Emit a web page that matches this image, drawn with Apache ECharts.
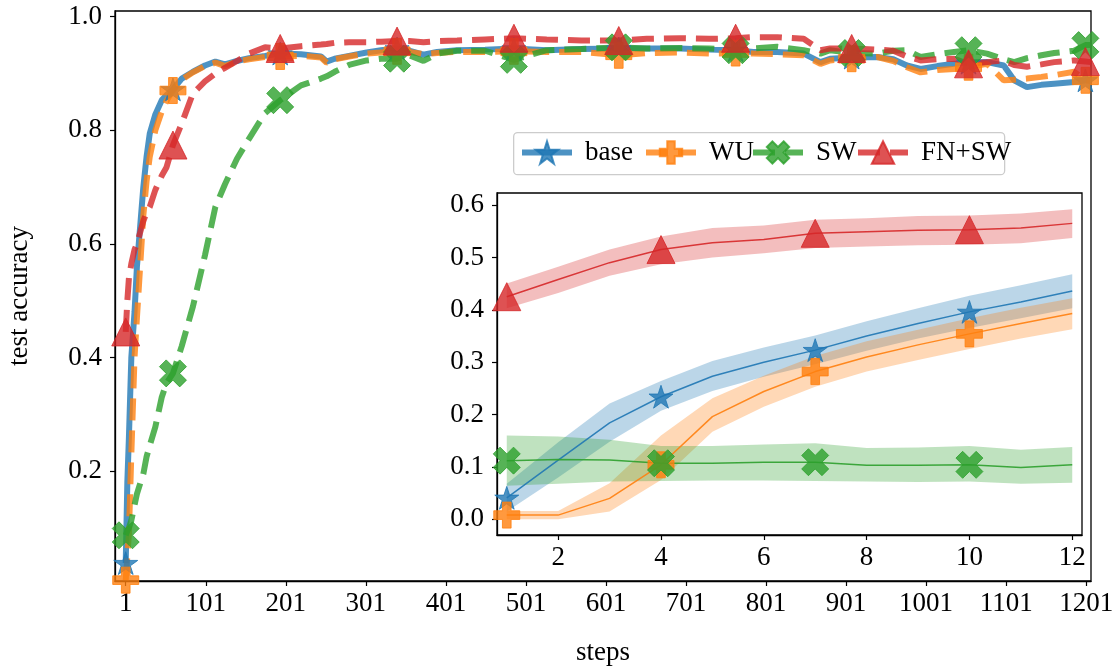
<!DOCTYPE html>
<html>
<head>
<meta charset="utf-8">
<script src="https://cdn.jsdelivr.net/npm/echarts@6/dist/echarts.min.js"></script>
<style>
  html, body { margin: 0; padding: 0; background: #fff; }
  #chart { width: 1112px; height: 666px; }
</style>
</head>
<body>
<div id="chart"></div>
<script>
// ---- main panel: test accuracy over training steps ----
const steps = [1, 3, 5, 8, 12, 15, 19, 23, 27, 31, 38, 46, 52, 60, 71, 85, 100, 113, 125, 140,
  155, 175, 194, 220, 245, 252, 262, 280, 302, 320, 340, 355, 373, 390, 415, 450, 486, 527, 570, 617,
  652, 694, 730, 763, 785, 815, 848, 869, 881, 908, 940, 960, 977, 994, 1015, 1036, 1054, 1077, 1098, 1111,
  1127, 1145, 1161, 1186, 1200, 1207];

const baseAcc = [0.038, 0.18, 0.26, 0.40, 0.48, 0.56, 0.63, 0.70, 0.753, 0.794, 0.828, 0.853, 0.862, 0.872, 0.891, 0.903, 0.914, 0.921, 0.916, 0.922,
  0.927, 0.931, 0.935, 0.934, 0.930, 0.921, 0.926, 0.931, 0.937, 0.941, 0.944, 0.940, 0.933, 0.938, 0.941, 0.942, 0.944, 0.941, 0.943, 0.944,
  0.944, 0.944, 0.942, 0.941, 0.938, 0.938, 0.935, 0.920, 0.926, 0.928, 0.929, 0.925, 0.914, 0.908, 0.913, 0.917, 0.919, 0.920, 0.914, 0.888,
  0.876, 0.880, 0.882, 0.885, 0.888, 0.890];

const wuAcc = [0.008, 0.05, 0.09, 0.23, 0.40, 0.47, 0.56, 0.65, 0.71, 0.753, 0.800, 0.833, 0.852, 0.870, 0.889, 0.902, 0.913, 0.919, 0.913, 0.921,
  0.925, 0.929, 0.930, 0.931, 0.928, 0.919, 0.925, 0.930, 0.935, 0.937, 0.939, 0.938, 0.934, 0.936, 0.938, 0.938, 0.939, 0.938, 0.938, 0.932,
  0.936, 0.937, 0.935, 0.936, 0.935, 0.934, 0.932, 0.917, 0.923, 0.926, 0.929, 0.922, 0.911, 0.902, 0.906, 0.908, 0.911, 0.917, 0.888, 0.889,
  0.891, 0.894, 0.897, 0.903, 0.888, 0.886];

const swAcc = [0.087, 0.095, 0.10, 0.113, 0.14, 0.16, 0.178, 0.195, 0.225, 0.245, 0.278, 0.33, 0.355, 0.372, 0.42, 0.49, 0.58, 0.665, 0.705, 0.75,
  0.785, 0.83, 0.853, 0.879, 0.891, 0.895, 0.903, 0.915, 0.923, 0.926, 0.926, 0.932, 0.922, 0.935, 0.940, 0.940, 0.924, 0.941, 0.943, 0.946,
  0.944, 0.945, 0.944, 0.941, 0.944, 0.947, 0.941, 0.935, 0.941, 0.936, 0.935, 0.940, 0.941, 0.929, 0.934, 0.938, 0.941, 0.935, 0.925, 0.920,
  0.927, 0.932, 0.936, 0.940, 0.950, 0.950];

const fnswAcc = [0.445, 0.50, 0.54, 0.565, 0.59, 0.60, 0.62, 0.64, 0.655, 0.665, 0.695, 0.72, 0.735, 0.774, 0.812, 0.865, 0.886, 0.900, 0.910, 0.922,
  0.935, 0.946, 0.944, 0.948, 0.951, 0.952, 0.954, 0.955, 0.955, 0.956, 0.957, 0.957, 0.955, 0.957, 0.958, 0.960, 0.962, 0.960, 0.958, 0.958,
  0.961, 0.962, 0.961, 0.962, 0.964, 0.964, 0.961, 0.941, 0.944, 0.944, 0.942, 0.940, 0.930, 0.923, 0.925, 0.926, 0.917, 0.920, 0.923, 0.915,
  0.912, 0.916, 0.920, 0.923, 0.921, 0.920];

const markerSteps = [1, 60, 194, 340, 486, 617, 763, 908, 1054, 1200];
const stepTicks = [1, 101, 201, 301, 401, 501, 601, 701, 801, 901, 1001, 1101, 1201];
const accTicks = [0.2, 0.4, 0.6, 0.8, 1.0];

// ---- inset: first evaluation points, mean with spread ----
const insetSteps = [1, 2, 3, 4, 5, 6, 7, 8, 9, 10, 11, 12];
const insetBase = [0.041, 0.113, 0.184, 0.234, 0.273, 0.300, 0.323, 0.350, 0.374, 0.396, 0.415, 0.436];
const insetBaseLow = [0.015, 0.080, 0.148, 0.207, 0.245, 0.272, 0.296, 0.322, 0.345, 0.365, 0.384, 0.403];
const insetBaseHigh = [0.068, 0.147, 0.221, 0.264, 0.302, 0.328, 0.351, 0.378, 0.403, 0.427, 0.447, 0.468];
const insetWU = [0.008, 0.008, 0.040, 0.104, 0.196, 0.244, 0.282, 0.310, 0.333, 0.354, 0.374, 0.393];
const insetWULow = [0.000, 0.000, 0.015, 0.075, 0.167, 0.215, 0.253, 0.282, 0.304, 0.325, 0.345, 0.363];
const insetWUHigh = [0.016, 0.016, 0.069, 0.160, 0.231, 0.274, 0.312, 0.340, 0.362, 0.384, 0.404, 0.422];
const insetSW = [0.112, 0.114, 0.113, 0.107, 0.107, 0.109, 0.109, 0.103, 0.103, 0.104, 0.099, 0.104];
const insetSWLow = [0.064, 0.068, 0.072, 0.073, 0.074, 0.074, 0.073, 0.072, 0.071, 0.072, 0.068, 0.070];
const insetSWHigh = [0.160, 0.158, 0.152, 0.140, 0.140, 0.143, 0.145, 0.136, 0.137, 0.140, 0.133, 0.138];
const insetFNSW = [0.425, 0.458, 0.490, 0.515, 0.528, 0.534, 0.546, 0.549, 0.552, 0.553, 0.556, 0.565];
const insetFNSWLow = [0.403, 0.432, 0.465, 0.487, 0.500, 0.508, 0.518, 0.521, 0.523, 0.524, 0.527, 0.537];
const insetFNSWHigh = [0.450, 0.482, 0.515, 0.540, 0.556, 0.561, 0.572, 0.575, 0.579, 0.580, 0.584, 0.592];
const insetMarkerSteps = [1, 4, 7, 10];
const insetXTicks = [2, 4, 6, 8, 10, 12];
const insetYTicks = [0.0, 0.1, 0.2, 0.3, 0.4, 0.5, 0.6];

// ---- marker shapes ----
function starPath() {
  const pts = [];
  for (let i = 0; i < 10; i++) {
    const r = i % 2 === 0 ? 1 : 0.382;
    const a = -Math.PI / 2 + i * Math.PI / 5;
    pts.push((r * Math.cos(a)).toFixed(4) + ',' + (r * Math.sin(a)).toFixed(4));
  }
  return 'path://M' + pts.join('L') + 'Z';
}
const plusPts = [[1,0],[2,0],[2,1],[3,1],[3,2],[2,2],[2,3],[1,3],[1,2],[0,2],[0,1],[1,1]];
function polyPath(pts) {
  return 'path://M' + pts.map(p => p[0].toFixed(4) + ',' + p[1].toFixed(4)).join('L') + 'Z';
}
function rotated(pts, deg) {
  const c = Math.cos(deg * Math.PI / 180), s = Math.sin(deg * Math.PI / 180);
  return pts.map(([x, y]) => [(x - 1.5) * c - (y - 1.5) * s, (x - 1.5) * s + (y - 1.5) * c]);
}
const STAR = starPath();
const PLUS = polyPath(plusPts);
const XMARK = polyPath(rotated(plusPts, 45));

const FONT = 'Liberation Serif';
const zip = (xs, ys) => xs.map((x, i) => [x, ys[i]]);

const defs = [
  { name: 'base', color: '#1f77b4', symbol: STAR, size: 24, dash: 'solid', main: baseAcc,
    inset: insetBase, lo: insetBaseLow, hi: insetBaseHigh },
  { name: 'WU', color: '#ff7f0e', symbol: PLUS, size: 26, dash: [22, 10], main: wuAcc,
    inset: insetWU, lo: insetWULow, hi: insetWUHigh },
  { name: 'SW', color: '#2ca02c', symbol: XMARK, size: 27, dash: [22, 10], main: swAcc,
    inset: insetSW, lo: insetSWLow, hi: insetSWHigh },
  { name: 'FN+SW', color: '#d62728', symbol: 'triangle', size: 28, dash: [22, 10], main: fnswAcc,
    inset: insetFNSW, lo: insetFNSWLow, hi: insetFNSWHigh }
];

const series = [];
// main curves
defs.forEach(d => {
  series.push({
    type: 'line', name: d.name, xAxisIndex: 0, yAxisIndex: 0,
    data: zip(steps, d.main),
    symbol: d.symbol, symbolKeepAspect: true,
    symbolSize: v => markerSteps.includes(v[0]) ? d.size : 0,
    showSymbol: true, showAllSymbol: true,
    lineStyle: { color: d.color, width: 6, type: d.dash, opacity: 0.8, cap: 'butt' },
    itemStyle: { color: d.color, opacity: 0.8, borderColor: d.color, borderWidth: 1 },
    emphasis: { disabled: true }, z: 2
  });
});
// inset spread bands (filled between low and high)
defs.forEach(d => {
  series.push({
    type: 'custom', name: d.name + ' spread', xAxisIndex: 1, yAxisIndex: 1,
    data: insetSteps.map((x, i) => [x, d.lo[i], d.hi[i]]),
    encode: { x: 0, y: [1, 2] },
    renderItem: (params, api) => {
      if (params.dataIndex !== 0) return null;
      const upper = insetSteps.map((x, i) => api.coord([x, d.hi[i]]));
      const lower = insetSteps.map((x, i) => api.coord([x, d.lo[i]])).reverse();
      return {
        type: 'polygon',
        shape: { points: upper.concat(lower) },
        style: { fill: d.color, opacity: 0.3 }
      };
    },
    silent: true, z: 3
  });
});
// inset mean curves
defs.forEach(d => {
  series.push({
    type: 'line', name: d.name + ' mean', xAxisIndex: 1, yAxisIndex: 1,
    data: zip(insetSteps, d.inset),
    symbol: d.symbol, symbolKeepAspect: true,
    symbolSize: v => insetMarkerSteps.includes(v[0]) ? d.size : 0,
    showSymbol: true, showAllSymbol: true,
    lineStyle: { color: d.color, width: 1.5, opacity: 0.9 },
    itemStyle: { color: d.color, opacity: 0.8, borderColor: d.color, borderWidth: 1 },
    emphasis: { disabled: true }, z: 4
  });
});

const labelStyle = { fontFamily: FONT, fontSize: 27, color: '#000' };
const tickStyle = { show: true, length: 5, lineStyle: { color: '#000', width: 1.2 } };

const legendSlots = [
  { name: 'base', left: 519 },
  { name: 'WU', left: 643 },
  { name: 'SW', left: 750 },
  { name: 'FN+SW', left: 855 }
];

const option = {
  animation: false,
  backgroundColor: '#fff',
  grid: [
    { left: 115, right: 21, top: 11, bottom: 85, show: true, borderColor: '#000', borderWidth: 1.3,
      containLabel: false, outerBoundsMode: 'none' },
    { left: 497, right: 30, top: 193, bottom: 131, show: true, backgroundColor: '#fff', borderColor: '#000', borderWidth: 1.3,
      containLabel: false, outerBoundsMode: 'none', z: 3 }
  ],
  xAxis: [
    { type: 'value', gridIndex: 0, min: -12.4, max: 1207,
      axisLine: { show: true, onZero: false, lineStyle: { color: '#000', width: 1.3 } },
      axisTick: Object.assign({ customValues: stepTicks }, tickStyle),
      axisLabel: Object.assign({ customValues: stepTicks, margin: 9, formatter: v => String(v) }, labelStyle),
      splitLine: { show: false },
      name: 'steps', nameLocation: 'middle', nameGap: 58, nameTextStyle: labelStyle },
    { type: 'value', gridIndex: 1, min: 0.81, max: 12.19, z: 3,
      axisLine: { show: true, onZero: false, lineStyle: { color: '#000', width: 1.3 } },
      axisTick: Object.assign({ customValues: insetXTicks }, tickStyle),
      axisLabel: Object.assign({ customValues: insetXTicks, margin: 9, formatter: v => String(v) }, labelStyle),
      splitLine: { show: false } }
  ],
  yAxis: [
    { type: 'value', gridIndex: 0, min: 0.0065, max: 1.01,
      axisLine: { show: true, onZero: false, lineStyle: { color: '#000', width: 1.3 } },
      axisTick: Object.assign({ customValues: accTicks }, tickStyle),
      axisLabel: Object.assign({ customValues: accTicks, margin: 13, formatter: v => v.toFixed(1) }, labelStyle),
      splitLine: { show: false },
      name: 'test accuracy', nameLocation: 'middle', nameGap: 82, nameTextStyle: labelStyle },
    { type: 'value', gridIndex: 1, min: -0.03, max: 0.623, z: 3,
      axisLine: { show: true, onZero: false, lineStyle: { color: '#000', width: 1.3 } },
      axisTick: Object.assign({ customValues: insetYTicks }, tickStyle),
      axisLabel: Object.assign({ customValues: insetYTicks, margin: 13, formatter: v => v.toFixed(1) }, labelStyle),
      splitLine: { show: false } }
  ],
  legend: legendSlots.map(s => ({
    data: [s.name], left: s.left, top: 139, padding: 0,
    itemWidth: 50, itemHeight: 28, selectedMode: false,
    lineStyle: { width: 6, opacity: 0.8 },
    itemStyle: { opacity: 0.8 },
    textStyle: { fontFamily: FONT, fontSize: 27, color: '#000', padding: [0, 0, 0, 8] },
    z: 6
  })),
  graphic: [{
    type: 'rect', left: 513, top: 132, z: 5,
    shape: { width: 491, height: 42, r: 4 },
    style: { fill: 'rgba(255,255,255,0.8)', stroke: '#cccccc', lineWidth: 1.3 }
  }],
  series: series
};

const chart = echarts.init(document.getElementById('chart'), null, { renderer: 'canvas' });
chart.setOption(option);
</script>
</body>
</html>
